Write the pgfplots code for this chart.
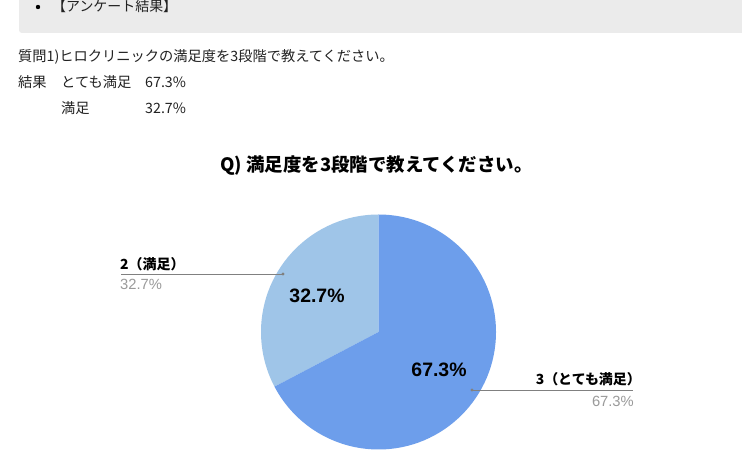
\documentclass[border=0pt]{standalone}
\usepackage{fontspec}
\usepackage{pgfplots}
\pgfplotsset{compat=1.18}
\setmainfont{Noto Sans CJK JP}
\newfontfamily\arial{Liberation Sans}
\definecolor{slicedark}{HTML}{6D9EEB}
\definecolor{slicelight}{HTML}{9FC5E8}
\definecolor{bar}{HTML}{EBEBEB}
\definecolor{body}{HTML}{222222}
\definecolor{lead}{HTML}{808080}
\definecolor{pct}{HTML}{9A9A9A}
% survey shares (%)
\def\verygood{67.3}
\def\good{32.7}
\begin{document}
\begin{tikzpicture}
\begin{axis}[
  width=742bp, height=460bp, scale only axis,
  xmin=0, xmax=742, ymin=0, ymax=460, y dir=reverse,
  hide axis, clip=false]
  \fill[white] (axis cs:0,0) rectangle (axis cs:742,460);
  % page header
  \begin{scope}
    \clip (axis cs:0,0) rectangle (axis cs:742,460);
    \fill[bar, rounded corners=3bp] (axis cs:19,-6) rectangle (axis cs:748,33);
  \end{scope}
  \fill[black] (axis cs:38,7) circle[radius=2.2bp];
  \node[anchor=base west, inner sep=0, text=body, font=\fontsize{14}{14}\selectfont] at (axis cs:52,12) {【アンケート結果】};
  \node[anchor=base west, inner sep=0, text=body, font=\fontsize{14.3}{14}\selectfont] at (axis cs:18,62) {質問1)ヒロクリニックの満足度を3段階で教えてください。};
  \node[anchor=base west, inner sep=0, text=body, font=\fontsize{14.3}{14}\selectfont] at (axis cs:18,88) {結果};
  \node[anchor=base west, inner sep=0, text=body, font=\fontsize{14.3}{14}\selectfont] at (axis cs:61,88) {とても満足};
  \node[anchor=base west, inner sep=0, text=body, font=\fontsize{14.3}{14}\selectfont] at (axis cs:145,88) {67.3\%};
  \node[anchor=base west, inner sep=0, text=body, font=\fontsize{14.3}{14}\selectfont] at (axis cs:61,114) {満足};
  \node[anchor=base west, inner sep=0, text=body, font=\fontsize{14.3}{14}\selectfont] at (axis cs:145,114) {32.7\%};
  % chart title
  \node[anchor=base, inner sep=0, font=\bfseries\fontsize{18.5}{18.5}\selectfont] at (axis cs:376.5,172) {Q) 満足度を3段階で教えてください。};
  % pie slices, starting at 12 o'clock
  \pgfmathsetmacro{\endang}{90+3.6*\good}
  \pgfmathsetmacro{\endangd}{90-3.6*\verygood}
  \fill[slicelight] (axis cs:378.5,332) -- ++(90:117.5bp) arc[start angle=90, end angle=\endang, radius=117.5bp] -- cycle;
  \fill[slicedark] (axis cs:378.5,332) -- ++(90:117.5bp) arc[start angle=90, end angle=\endangd, radius=117.5bp] -- cycle;
  % slice labels
  \node[anchor=base, inner sep=0, font=\arial\bfseries\fontsize{19.5}{19.5}\selectfont] at (axis cs:317,303) {32.7\%};
  \node[anchor=base, inner sep=0, font=\arial\bfseries\fontsize{19.5}{19.5}\selectfont] at (axis cs:439,377) {67.3\%};
  % leader lines
  \draw[lead, line width=0.9bp] (axis cs:121,274) -- (axis cs:283,274);
  \fill[lead] (axis cs:283,274) circle[radius=1.6bp];
  \draw[lead, line width=0.9bp] (axis cs:472,390) -- (axis cs:633,390);
  \fill[lead] (axis cs:472,390) circle[radius=1.6bp];
  \node[anchor=base west, inner sep=0, font=\bfseries\fontsize{14}{14}\selectfont] at (axis cs:120,270) {2（満足）};
  \node[anchor=base west, inner sep=0, text=pct, font=\arial\fontsize{14.8}{14.8}\selectfont] at (axis cs:120,290) {32.7\%};
  \node[anchor=base east, inner sep=0, font=\bfseries\fontsize{14}{14}\selectfont] at (axis cs:641,385) {3（とても満足）};
  \node[anchor=base east, inner sep=0, text=pct, font=\arial\fontsize{14.8}{14.8}\selectfont] at (axis cs:634,407) {67.3\%};
\end{axis}
\end{tikzpicture}
\end{document}
